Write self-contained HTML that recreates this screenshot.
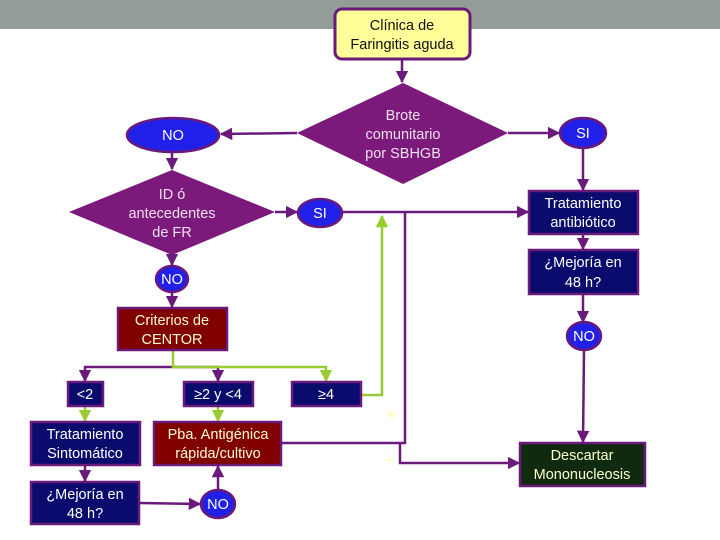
<!DOCTYPE html>
<html><head><meta charset="utf-8"><style>
html,body{margin:0;padding:0;background:#fff;}
svg{display:block;font-family:"Liberation Sans",sans-serif;}
</style></head><body>
<svg width="720" height="540" viewBox="0 0 720 540" xmlns="http://www.w3.org/2000/svg">
<defs>
<marker id="ap" viewBox="0 0 10 10" refX="9" refY="5" markerWidth="5" markerHeight="5" orient="auto"><path d="M0,0L10,5L0,10z" fill="#6a1a7a"/></marker>
<marker id="ag" viewBox="0 0 10 10" refX="9" refY="5" markerWidth="5" markerHeight="5" orient="auto"><path d="M0,0L10,5L0,10z" fill="#99cc33"/></marker>
</defs>
<rect x="0" y="0" width="720" height="29" fill="#949c97"/>
<g stroke="#6a1a7a" stroke-width="2.5" fill="none">
<line x1="402" y1="60" x2="402" y2="82" marker-end="url(#ap)"/>
<line x1="297" y1="133" x2="221" y2="134" marker-end="url(#ap)"/>
<line x1="508" y1="133" x2="559" y2="133" marker-end="url(#ap)"/>
<line x1="583" y1="148" x2="583" y2="190" marker-end="url(#ap)"/>
<line x1="172" y1="152" x2="172" y2="169" marker-end="url(#ap)"/>
<line x1="275" y1="212" x2="297" y2="212" marker-end="url(#ap)"/>
<line x1="343" y1="212" x2="528" y2="212" marker-end="url(#ap)"/>
<line x1="583" y1="234" x2="583" y2="249" marker-end="url(#ap)"/>
<line x1="583" y1="294" x2="583" y2="322" marker-end="url(#ap)"/>
<line x1="584" y1="350" x2="583" y2="442" marker-end="url(#ap)"/>
<line x1="172" y1="255" x2="172" y2="265" marker-end="url(#ap)"/>
<line x1="172" y1="292" x2="172" y2="307" marker-end="url(#ap)"/>
<polyline points="281,443 405,443 405,212"/>
<polyline points="400,443 400,463 519,463" marker-end="url(#ap)"/>
<polyline points="173,367 85,367 85,381" marker-end="url(#ap)"/>
<polyline points="173,367 218,367 218,381" marker-end="url(#ap)"/>
<line x1="85" y1="465" x2="85" y2="481" marker-end="url(#ap)"/>
<line x1="140" y1="503" x2="200" y2="504" marker-end="url(#ap)"/>
<line x1="218" y1="491" x2="218" y2="466" marker-end="url(#ap)"/>
</g>
<g stroke="#99cc33" stroke-width="2.5" fill="none">
<polyline points="173,350 173,367 326,367 326,381" marker-end="url(#ag)"/>
<polyline points="361,395 382,395 382,216" marker-end="url(#ag)"/>
<line x1="85" y1="406" x2="85" y2="421" marker-end="url(#ag)"/>
<line x1="218" y1="406" x2="218" y2="421" marker-end="url(#ag)"/>
</g>
<rect x="335" y="9" width="135" height="50" rx="7" fill="#ffff99" stroke="#6a1a7a" stroke-width="3"/>
<polygon points="403,83 508,133 403,184 297,133" fill="#7b1a7b"/>
<polygon points="172,170 275,212 172,255 69,212" fill="#7b1a7b"/>
<g fill="#2020e8" stroke="#6a1a7a" stroke-width="2.5">
<ellipse cx="173" cy="135" rx="46" ry="17"/>
<ellipse cx="583" cy="133" rx="23" ry="15"/>
<ellipse cx="320" cy="213" rx="22" ry="14"/>
<ellipse cx="172" cy="279" rx="16" ry="13"/>
<ellipse cx="584" cy="336" rx="17" ry="14"/>
<ellipse cx="218" cy="504" rx="17" ry="14"/>
</g>
<g fill="#0b0b6e" stroke="#6a1a7a" stroke-width="2.5">
<rect x="529" y="191" width="109" height="43"/>
<rect x="529" y="250" width="109" height="44"/>
<rect x="68" y="382" width="35" height="24"/>
<rect x="184" y="382" width="69" height="24"/>
<rect x="292" y="382" width="69" height="24"/>
<rect x="31" y="422" width="109" height="43"/>
<rect x="31" y="482" width="108" height="42"/>
</g>
<g fill="#800000" stroke="#6a1a7a" stroke-width="2.5">
<rect x="118" y="308" width="109" height="42"/>
<rect x="154" y="422" width="127" height="43"/>
</g>
<rect x="520" y="443" width="125" height="43" fill="#0f2a0f" stroke="#6a1a7a" stroke-width="2.5"/>
<g font-size="14.5" text-anchor="middle" fill="#fff">
<text x="402" y="30" fill="#111">Clínica de</text>
<text x="402" y="49" fill="#111">Faringitis aguda</text>
<text x="403" y="120" fill="#f0e0f0">Brote</text>
<text x="403" y="139" fill="#f0e0f0">comunitario</text>
<text x="403" y="158" fill="#f0e0f0">por SBHGB</text>
<text x="172" y="199" fill="#f0e0f0">ID ó</text>
<text x="172" y="218" fill="#f0e0f0">antecedentes</text>
<text x="172" y="237" fill="#f0e0f0">de FR</text>
<text x="173" y="140">NO</text>
<text x="583" y="138">SI</text>
<text x="320" y="218">SI</text>
<text x="172" y="284">NO</text>
<text x="584" y="341">NO</text>
<text x="218" y="509">NO</text>
<text x="583" y="208">Tratamiento</text>
<text x="583" y="227">antibiótico</text>
<text x="583" y="267">¿Mejoría en</text>
<text x="583" y="287">48 h?</text>
<text x="85" y="399">&lt;2</text>
<text x="218" y="399">≥2 y &lt;4</text>
<text x="326" y="399">≥4</text>
<text x="85" y="439">Tratamiento</text>
<text x="85" y="458">Sintomático</text>
<text x="85" y="499">¿Mejoría en</text>
<text x="85" y="518">48 h?</text>
<text x="172" y="325" fill="#ffffcc">Criterios de</text>
<text x="172" y="344" fill="#ffffcc">CENTOR</text>
<text x="218" y="439" fill="#ffffcc">Pba. Antigénica</text>
<text x="218" y="458" fill="#ffffcc">rápida/cultivo</text>
<text x="582" y="460" fill="#ffffcc">Descartar</text>
<text x="582" y="479" fill="#ffffcc">Mononucleosis</text>
<text x="391" y="420" fill="#ffff99" font-size="16">+</text>
<text x="389" y="465" fill="#ffff99" font-size="16">−</text>
</g>
</svg>
</body></html>
